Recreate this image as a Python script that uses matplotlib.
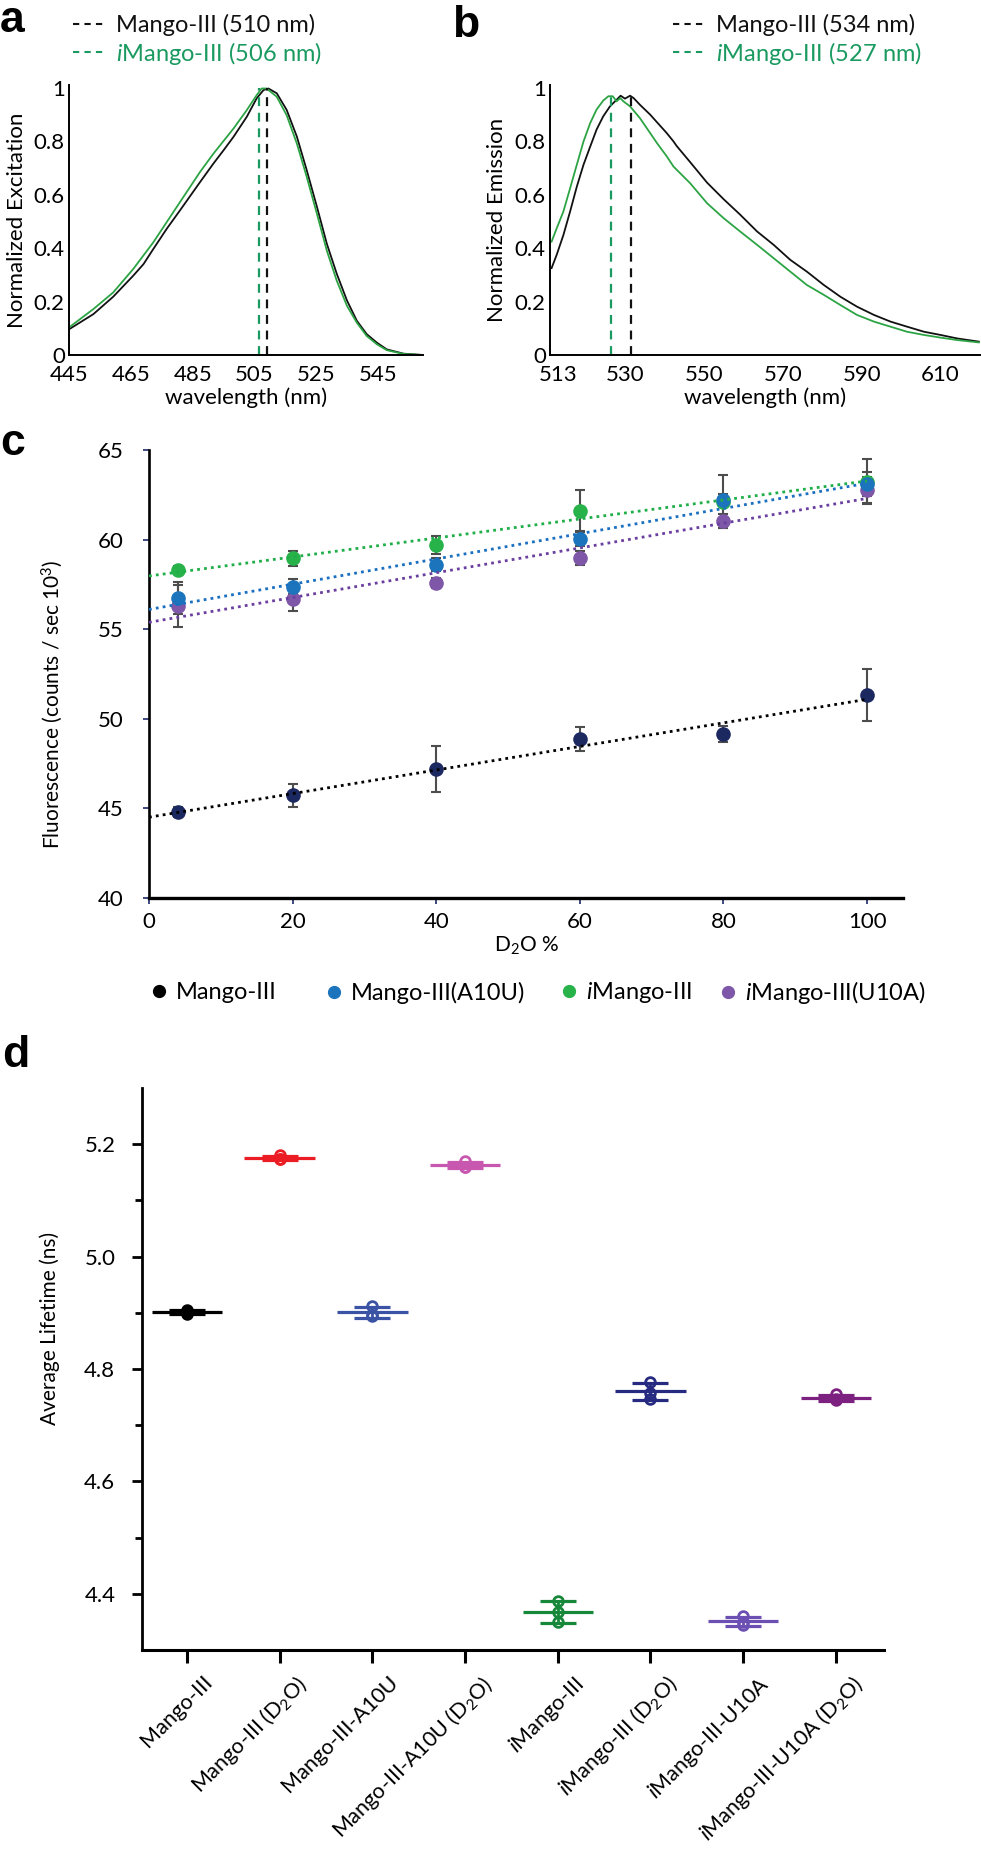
import matplotlib
matplotlib.use("Agg")
import matplotlib.pyplot as plt
import matplotlib.transforms as mtransforms
from matplotlib.lines import Line2D
import numpy as np

plt.rcParams['font.family'] = ['Lato', 'DejaVu Sans']
plt.rcParams['mathtext.fontset'] = 'custom'
plt.rcParams['mathtext.rm'] = 'Lato'
plt.rcParams['mathtext.it'] = 'Lato:italic'
plt.rcParams['mathtext.bf'] = 'Lato:bold'

# ============================================================
# Data
# ============================================================
# panel a - normalized excitation
exc_nm_mango = [445.0, 452.9, 459.3, 465.8, 469.1, 472.3, 476.6, 480.9, 487.4, 491.7, 495.0,
                498.2, 502.5, 505.7, 507.9, 509.5, 512.2, 515.4, 518.7, 521.9, 525.2, 528.4,
                531.6, 534.9, 538.1, 541.3, 544.6, 547.8, 553.2, 559.5]
exc_mango = [0.096, 0.153, 0.218, 0.297, 0.34, 0.397, 0.472, 0.541, 0.647, 0.716, 0.766,
             0.816, 0.891, 0.96, 0.991, 0.997, 0.979, 0.917, 0.817, 0.691, 0.554, 0.416,
             0.304, 0.204, 0.128, 0.078, 0.046, 0.021, 0.005, 0.0]
exc_nm_imango = [445.0, 452.9, 459.3, 465.8, 472.3, 476.6, 480.9, 487.4, 491.7, 498.2, 502.5,
                 505.7, 507.3, 508.9, 512.2, 515.4, 518.7, 521.9, 525.2, 528.4, 531.6, 534.9,
                 538.1, 541.3, 544.6, 547.8, 553.2, 559.5]
exc_imango = [0.103, 0.172, 0.234, 0.322, 0.422, 0.497, 0.572, 0.685, 0.753, 0.847, 0.916,
              0.972, 0.997, 0.997, 0.966, 0.897, 0.791, 0.666, 0.528, 0.39, 0.278, 0.184,
              0.121, 0.071, 0.04, 0.018, 0.004, 0.0]
exc_peaks = [509.0, 506.5]
exc_peak_tops = [1.0, 1.0]
exc_labels = ["Mango-III (510 nm)", r"$\mathit{i}$Mango-III (506 nm)"]
exc_xticks = [445, 465, 485, 505, 525, 545]

# panel b - normalized emission
em_nm_mango = [511.4, 512.7, 514.4, 516.1, 517.8, 519.5, 521.2, 522.8, 524.5, 526.2, 527.9,
               528.9, 530.0, 531.3, 532.2, 533.8, 536.4, 538.1, 540.6, 542.3, 543.1, 546.5,
               550.8, 555.0, 559.2, 563.5, 567.7, 571.9, 576.1, 580.4, 584.6, 588.8, 593.1,
               597.3, 601.5, 605.8, 610.0, 614.2, 619.7]
em_mango = [0.325, 0.375, 0.449, 0.537, 0.63, 0.712, 0.78, 0.843, 0.893, 0.93, 0.955,
            0.97, 0.959, 0.97, 0.961, 0.936, 0.899, 0.871, 0.83, 0.799, 0.782, 0.722,
            0.645, 0.583, 0.525, 0.462, 0.412, 0.356, 0.312, 0.262, 0.218, 0.181, 0.15,
            0.125, 0.106, 0.087, 0.075, 0.062, 0.05]
em_nm_imango = [511.4, 512.7, 514.4, 516.1, 517.8, 519.5, 521.2, 522.8, 524.5, 525.8, 526.9,
                527.9, 528.8, 529.6, 531.3, 533.8, 536.4, 538.1, 540.6, 542.3, 546.5, 550.8,
                555.0, 559.2, 563.5, 567.7, 571.9, 576.1, 580.4, 584.6, 588.8, 593.1, 597.3,
                601.5, 605.8, 610.0, 614.2, 619.7]
em_imango = [0.424, 0.474, 0.537, 0.624, 0.712, 0.799, 0.868, 0.918, 0.952, 0.968, 0.968,
             0.949, 0.961, 0.949, 0.93, 0.886, 0.83, 0.793, 0.743, 0.705, 0.643, 0.568,
             0.512, 0.462, 0.412, 0.362, 0.312, 0.262, 0.225, 0.187, 0.15, 0.125, 0.106,
             0.087, 0.075, 0.065, 0.056, 0.047]
em_peaks = [531.5, 526.5]
em_peak_tops = [0.965, 0.965]
em_labels = ["Mango-III (534 nm)", r"$\mathit{i}$Mango-III (527 nm)"]
em_xticks = [513, 530, 550, 570, 590, 610]

spec_yticks = [0, 0.2, 0.4, 0.6, 0.8, 1]

# panel c - fluorescence vs D2O
d2o_pct = [4, 20, 40, 60, 80, 100]
fl_names = ["Mango-III", "Mango-III(A10U)", r"$\mathit{i}$Mango-III", r"$\mathit{i}$Mango-III(U10A)"]
fl_mango = [44.78, 45.73, 47.19, 48.87, 49.15, 51.34]
fl_mango_err = [0.28, 0.63, 1.3, 0.65, 0.45, 1.45]
fl_a10u = [56.73, 57.38, 58.59, 60.02, 62.21, 63.1]
fl_a10u_err = [0.9, 0.41, 0.37, 0.4, 0.35, 0.65]
fl_imango = [58.31, 58.96, 59.70, 61.62, 62.12, 63.23]
fl_imango_err = [0.22, 0.43, 0.5, 1.15, 1.5, 1.25]
fl_u10a = [56.32, 56.67, 57.57, 58.96, 61.04, 62.77]
fl_u10a_err = [1.17, 0.63, 0.28, 0.4, 0.41, 0.75]

# panel d - average lifetime
lt_groups = ["Mango-III", "Mango-III (D$_2$O)", "Mango-III-A10U", "Mango-III-A10U (D$_2$O)",
             r"$\mathit{i}$Mango-III", r"$\mathit{i}$Mango-III (D$_2$O)",
             r"$\mathit{i}$Mango-III-U10A", r"$\mathit{i}$Mango-III-U10A (D$_2$O)"]
lt_points = [
    [4.905, 4.897, 4.901],
    [5.180, 5.174, 5.174],
    [4.912, 4.896, 4.895],
    [5.170, 5.160, 5.159],
    [4.388, 4.368, 4.349],
    [4.776, 4.757, 4.747],
    [4.360, 4.349, 4.345],
    [4.755, 4.746, 4.744],
]
lt_colors = ['#000000', '#ec1c24', '#3a53a4', '#c857b0', '#17873a', '#262a80', '#6c4fb3', '#7d2180']

# ============================================================
# Figure
# ============================================================
W, H = 981, 1850
fig = plt.figure(figsize=(W / 100, H / 100), dpi=100)


def rect(left, top, right, bottom):
    return [left / W, 1 - bottom / H, (right - left) / W, (bottom - top) / H]


BLACK = '#111111'
GREEN_LINE = '#2ca444'
GREEN_DASH = '#1a9a60'
FS = 16


def spectrum_axes(ax, xlim, xticks):
    for s in ['top', 'right']:
        ax.spines[s].set_visible(False)
    for s in ['left', 'bottom']:
        ax.spines[s].set_linewidth(1.4)
    ax.set_xlim(*xlim)
    ax.set_ylim(0, 1.01)
    ax.set_xticks(xticks, labels=[str(t) for t in xticks])
    ax.set_yticks(spec_yticks, labels=[f"{t:g}" for t in spec_yticks])
    ax.tick_params(length=0, labelsize=FS)
    ax.tick_params(axis='x', pad=7)
    ax.tick_params(axis='y', pad=3)
    ax.set_xlabel("wavelength (nm)", fontsize=FS, labelpad=2)


def spectrum_legend(ax, labels, x0):
    handles = [Line2D([], [], color=BLACK, lw=1.5, ls=(0, (3, 2.5))),
               Line2D([], [], color=GREEN_DASH, lw=1.5, ls=(0, (3, 2.5)))]
    leg = ax.legend(handles, labels, loc='upper left', bbox_to_anchor=(x0 / W, 1 - 14 / H),
                    bbox_transform=fig.transFigure, frameon=False, fontsize=FS + 1,
                    handlelength=1.35, handletextpad=0.45, labelspacing=0.15,
                    borderpad=0, borderaxespad=0)
    for t, c in zip(leg.get_texts(), [BLACK, GREEN_DASH]):
        t.set_color(c)


# ---- a ----
ax_a = fig.add_axes(rect(69, 85, 423, 355))
ax_a.plot(exc_nm_mango, exc_mango, color=BLACK, lw=1.3)
ax_a.plot(exc_nm_imango, exc_imango, color=GREEN_LINE, lw=1.3)
ax_a.vlines(exc_peaks, 0, exc_peak_tops, colors=[BLACK, GREEN_DASH], lw=1.6, linestyles=(0, (4, 3)))
spectrum_axes(ax_a, (445, 559.5), exc_xticks)
ax_a.set_ylabel("Normalized Excitation", fontsize=FS)
ax_a.yaxis.set_label_coords(-0.119, 0.5)
spectrum_legend(ax_a, exc_labels, 73)

# ---- b ----
ax_b = fig.add_axes(rect(550, 85, 980, 355))
ax_b.plot(em_nm_mango, em_mango, color=BLACK, lw=1.3)
ax_b.plot(em_nm_imango, em_imango, color=GREEN_LINE, lw=1.3)
ax_b.vlines(em_peaks, 0, em_peak_tops, colors=[BLACK, GREEN_DASH], lw=1.6, linestyles=(0, (4, 3)))
spectrum_axes(ax_b, (511, 620), em_xticks)
ax_b.set_ylabel("Normalized Emission", fontsize=FS)
ax_b.yaxis.set_label_coords(-0.10, 0.5)
spectrum_legend(ax_b, em_labels, 673)

# ---- c ----
ax_c = fig.add_axes(rect(149, 450, 903, 898))
NAVY_PT = '#1c2860'
series_c = [
    (fl_mango, fl_mango_err, NAVY_PT, '#000000'),
    (fl_u10a, fl_u10a_err, '#7e57a8', '#6a3fa0'),
    (fl_imango, fl_imango_err, '#27b24a', '#1fae48'),
    (fl_a10u, fl_a10u_err, '#1c75bc', '#1a6fc0'),
]
for vals, errs, mc, lc in series_c:
    ax_c.errorbar(d2o_pct, vals, yerr=errs, fmt='none', ecolor='#4d4d4d', elinewidth=1.5,
                  capsize=3.6, capthick=1.5, zorder=1)
for vals, errs, mc, lc in series_c:
    ax_c.plot(d2o_pct, vals, 'o', color=mc, ms=9.5, mec=mc, zorder=2)
for vals, errs, mc, lc in series_c:
    k, b = np.polyfit(d2o_pct, vals, 1)
    xx = np.array([0, 100])
    ax_c.plot(xx, k * xx + b, color=lc, lw=2.0, ls=(0, (1, 1.5)), zorder=3)

ax_c.set_xlim(0, 105)
ax_c.set_ylim(40, 65)
ax_c.set_xticks([0, 20, 40, 60, 80, 100])
ax_c.set_yticks([40, 45, 50, 55, 60, 65])
for s in ['top', 'right']:
    ax_c.spines[s].set_visible(False)
ax_c.spines['left'].set_linewidth(1.9)
ax_c.spines['bottom'].set_linewidth(2.4)
ax_c.tick_params(direction='out', length=4, width=1.2, color='#1f2a6b', labelsize=FS)
ax_c.tick_params(axis='y', pad=14)
ax_c.tick_params(axis='x', pad=6)
ax_c.set_xlabel("D$_2$O %", fontsize=FS - 1, labelpad=2)
ax_c.set_ylabel("Fluorescence (counts / sec 10$^3$)", fontsize=FS - 1)
ax_c.yaxis.set_label_coords(-0.111, 0.433)

# legend entries placed one by one at the reference positions
leg_colors = ['#000000', '#1c75bc', '#27b24a', '#7e57a8']
leg_dot_x = [159, 334, 569, 728]
em_px = (FS + 1) * 100 / 72
for name, c, x in zip(fl_names, leg_colors, leg_dot_x):
    h = Line2D([], [], ls='', marker='o', ms=8.5, color=c)
    fig.legend([h], [name], loc='center left', bbox_to_anchor=((x - 0.4 * em_px) / W, 1 - 993 / H),
               frameon=False, fontsize=FS + 1, handlelength=0.8, handletextpad=0.3,
               borderpad=0, borderaxespad=0)

# ---- d ----
ax_d = fig.add_axes(rect(142, 1088, 884, 1650))
for i, (pts, c) in enumerate(zip(lt_points, lt_colors)):
    m = np.mean(pts)
    s = np.std(pts, ddof=1)
    ax_d.hlines(m, i - 0.38, i + 0.38, color=c, lw=2.3, zorder=2)
    ax_d.errorbar(i, m, yerr=s, fmt='none', ecolor=c, elinewidth=2.0, capsize=13,
                  capthick=2.3, zorder=2)
    ax_d.plot([i] * len(pts), pts, 'o', mfc='none', mec=c, mew=2.0, ms=7, zorder=3)

ax_d.set_xlim(-0.485, 7.52)
ax_d.set_ylim(4.30, 5.30)
ax_d.set_yticks([4.4, 4.6, 4.8, 5.0, 5.2], labels=["4.4", "4.6", "4.8", "5.0", "5.2"])
ax_d.set_yticks([4.5, 4.7, 4.9, 5.1], minor=True)
ax_d.set_xticks(range(len(lt_groups)), labels=[""] * len(lt_groups))
for s in ['top', 'right']:
    ax_d.spines[s].set_visible(False)
ax_d.spines['left'].set_linewidth(2.0)
ax_d.spines['bottom'].set_linewidth(2.2)
ax_d.tick_params(axis='y', which='major', direction='out', length=7.2, width=2.0,
                 labelsize=FS, pad=12)
ax_d.tick_params(axis='y', which='minor', direction='out', length=5, width=2.0)
ax_d.tick_params(axis='x', direction='out', length=9.4, width=2.2)

# rotated category labels: top-right corner slightly right of and below each tick
base = mtransforms.blended_transform_factory(ax_d.transData, ax_d.transAxes)
shift = mtransforms.ScaledTranslation(15 / 100, -22 / 100, fig.dpi_scale_trans)
for i, lab in enumerate(lt_groups):
    ax_d.text(i, 0, lab, transform=base + shift, rotation=45, ha='right', va='top',
              rotation_mode='anchor', fontsize=FS - 0.5, clip_on=False)
ax_d.set_ylabel("Average Lifetime (ns)", fontsize=FS - 1)
ax_d.yaxis.set_label_coords(-0.1105, 0.573)

# ---- panel letters ----
for letter, x, y in [("a", 0, 32), ("b", 452, 37), ("c", 0, 455), ("d", 2, 1067)]:
    fig.text(x / W, 1 - y / H, letter, fontsize=32, fontweight='bold',
             family=['Liberation Sans', 'DejaVu Sans'], va='baseline', ha='left')

fig.savefig("out.png", dpi=100)
